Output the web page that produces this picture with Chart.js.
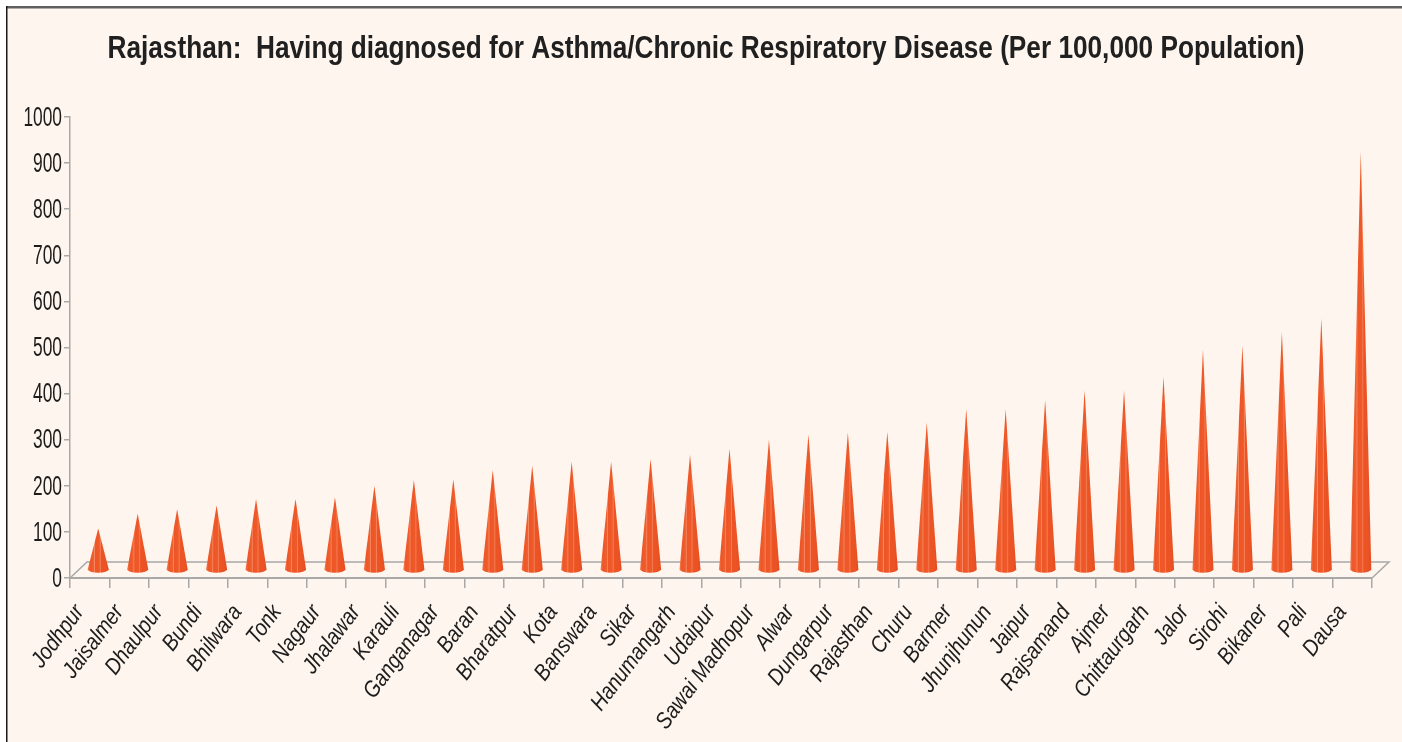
<!DOCTYPE html>
<html>
<head>
<meta charset="utf-8">
<script src="https://cdn.jsdelivr.net/npm/chart.js@4.4.1/dist/chart.umd.min.js"></script>
<style>
  html, body { margin: 0; padding: 0; background: #ffffff; }
  canvas { display: block; }
</style>
</head>
<body>
<canvas id="cone-chart" width="1402" height="742"></canvas>
<script>
const districts = ['Jodhpur', 'Jaisalmer', 'Dhaulpur', 'Bundi', 'Bhilwara', 'Tonk', 'Nagaur', 'Jhalawar',
    'Karauli', 'Ganganagar', 'Baran', 'Bharatpur', 'Kota', 'Banswara', 'Sikar', 'Hanumangarh', 'Udaipur',
    'Sawai Madhopur', 'Alwar', 'Dungarpur', 'Rajasthan', 'Churu', 'Barmer', 'Jhunjhunun', 'Jaipur',
    'Rajsamand', 'Ajmer', 'Chittaurgarh', 'Jalor', 'Sirohi', 'Bikaner', 'Pali', 'Dausa'];
const asthmaRate = [90, 122, 132, 140, 154, 154, 158, 182, 195, 197, 217, 226, 235, 235, 241, 250, 263,
    283, 294, 298, 300, 320, 349, 349, 368, 390, 390, 419, 478, 487, 517, 546, 908];
const yTicks = [0, 100, 200, 300, 400, 500, 600, 700, 800, 900, 1000];

const chartTitle = 'Rajasthan:  Having diagnosed for Asthma/Chronic Respiratory Disease (Per 100,000 Population)';

// 3d look: depth of the floor
const DEPTH_X = 17;
const DEPTH_Y = 16;

// frame + cream background
const framePlugin = {
    id: 'frame',
    beforeDraw(chart) {
        const ctx = chart.ctx;
        ctx.save();
        ctx.fillStyle = '#ffffff';
        ctx.fillRect(0, 0, chart.width, chart.height);
        ctx.fillStyle = '#fdf5ee';
        ctx.fillRect(6, 6, chart.width - 6, chart.height - 6);
        ctx.fillStyle = '#606060';
        ctx.fillRect(6, 6, chart.width - 6, 2.5);
        ctx.fillStyle = '#1a1a1a';
        ctx.fillRect(6, 6, 1.5, chart.height - 6);
        ctx.restore();
    }
};

// narrow title and axis labels (no narrow font installed, so squeeze Liberation Sans)
const narrowTextPlugin = {
    id: 'narrowText',
    afterDraw(chart) {
        const ctx = chart.ctx;
        ctx.save();
        ctx.fillStyle = '#202020';
        ctx.font = 'bold 32px "Liberation Sans", Arial, sans-serif';
        ctx.textAlign = 'center';
        ctx.textBaseline = 'alphabetic';
        const w = ctx.measureText(chartTitle).width;
        const sx = 1197 / w;
        ctx.translate(706, 58);
        ctx.scale(sx, 1);
        ctx.fillText(chartTitle, 0, 0);
        ctx.restore();

        const y = chart.scales.y;
        ctx.save();
        ctx.fillStyle = '#1c1c1c';
        ctx.font = '28px "Liberation Sans", Arial, sans-serif';
        ctx.textAlign = 'right';
        ctx.textBaseline = 'middle';
        yTicks.forEach(function (v) {
            ctx.save();
            ctx.translate(y.right - 8, y.getPixelForValue(v) + 1);
            ctx.scale(0.62, 1);
            ctx.fillText(String(v), 0, 0);
            ctx.restore();
        });
        ctx.restore();

        // rotated district names
        const x = chart.scales.x;
        const top = chart.chartArea.bottom;
        ctx.save();
        ctx.fillStyle = '#1c1c1c';
        ctx.font = 'italic 23px "Liberation Sans", Arial, sans-serif';
        ctx.textAlign = 'right';
        ctx.textBaseline = 'middle';
        districts.forEach(function (name, i) {
            ctx.save();
            ctx.translate(x.getPixelForTick(i) - 10, top + 30);
            ctx.rotate(-53 * Math.PI / 180);
            ctx.scale(0.86, 1);
            ctx.fillText(name, 0, 0);
            ctx.restore();
        });
        ctx.restore();
    }
};

// floor back edge + cones
const conePlugin = {
    id: 'cones',
    beforeDatasetsDraw(chart) {
        const ctx = chart.ctx;
        const a = chart.chartArea;
        ctx.save();
        ctx.strokeStyle = '#a8a8a8';
        ctx.lineWidth = 1.5;
        ctx.beginPath();
        ctx.moveTo(a.left, a.bottom);
        ctx.lineTo(a.left + DEPTH_X, a.bottom - DEPTH_Y);
        ctx.lineTo(a.right + DEPTH_X, a.bottom - DEPTH_Y);
        ctx.lineTo(a.right, a.bottom);
        ctx.stroke();
        ctx.restore();
    },
    afterDatasetsDraw(chart) {
        const ctx = chart.ctx;
        const meta = chart.getDatasetMeta(0);
        const r = 10.5;
        ctx.save();
        meta.data.forEach(function (bar) {
            const cx = bar.x + DEPTH_X / 2;
            const by = bar.base - DEPTH_Y / 2;
            const ty = bar.y - DEPTH_Y / 2;
            const g = ctx.createLinearGradient(cx - r, 0, cx + r, 0);
            g.addColorStop(0, '#f47a50');
            g.addColorStop(0.12, '#ee5526');
            g.addColorStop(0.28, '#f0602f');
            g.addColorStop(0.32, '#f68a64');
            g.addColorStop(0.36, '#ee5526');
            g.addColorStop(0.55, '#ef5a2a');
            g.addColorStop(0.6, '#f57e55');
            g.addColorStop(0.64, '#ed5425');
            g.addColorStop(0.85, '#ec5324');
            g.addColorStop(1, '#e34b1f');
            ctx.fillStyle = g;
            ctx.beginPath();
            ctx.moveTo(cx, ty);
            ctx.lineTo(cx - r, by);
            ctx.ellipse(cx, by, r, 3.5, 0, Math.PI, 0, true);
            ctx.closePath();
            ctx.fill();
        });
        ctx.restore();
    }
};

const canvas = document.getElementById('cone-chart');
const cone_chart = new Chart(canvas, {
    type: 'bar',
    data: {
        labels: districts,
        datasets: [
            {
                label: 'Per 100,000',
                data: asthmaRate,
                backgroundColor: 'rgba(0,0,0,0)',
                borderWidth: 0,
            },
        ]
    },
    options: {
        responsive: false,
        animation: false,
        layout: {
            padding: { left: 64, right: 30, top: 117, bottom: 154 }
        },
        plugins: {
            legend: { display: false },
            tooltip: { enabled: false },
            title: { display: false }
        },
        scales: {
            x: {
                grid: { display: true, drawOnChartArea: false, drawTicks: true, tickLength: 10, color: '#a8a8a8', lineWidth: 1.5 },
                border: { display: true, color: '#a8a8a8', width: 2 },
                ticks: { display: false, autoSkip: false }
            },
            y: {
                min: 0,
                max: 1000,
                afterBuildTicks(axis) {
                    axis.ticks = yTicks.map(v => ({ value: v }));
                },
                grid: { display: true, drawOnChartArea: false, drawTicks: true, tickLength: 6, color: '#a8a8a8', lineWidth: 1.5 },
                border: { display: true, color: '#a8a8a8', width: 1.5 },
                ticks: { display: false }
            }
        }
    },
    plugins: [framePlugin, conePlugin, narrowTextPlugin]
});
</script>
</body>
</html>
